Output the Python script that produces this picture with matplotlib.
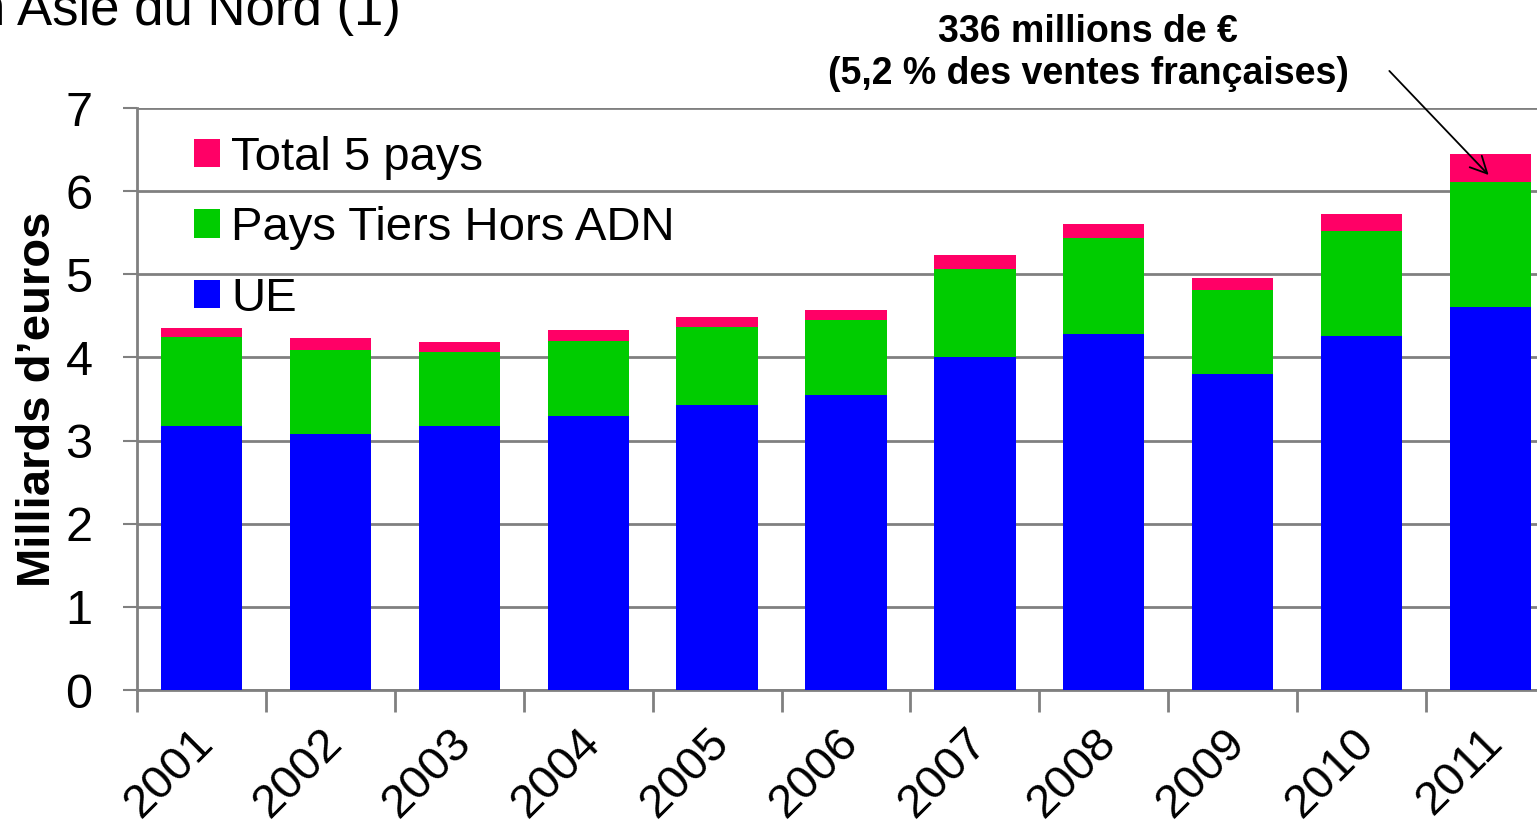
import numpy as np
import matplotlib
matplotlib.use("Agg")
import matplotlib.pyplot as plt
import matplotlib.transforms as mtransforms

# values (milliards d'euros)
years = ["2001", "2002", "2003", "2004", "2005", "2006",
         "2007", "2008", "2009", "2010", "2011"]
ue = [3.17, 3.08, 3.17, 3.29, 3.43, 3.55, 4.01, 4.28, 3.80, 4.26, 4.61]
tiers = [1.07, 1.01, 0.89, 0.91, 0.94, 0.90, 1.05, 1.16, 1.01, 1.26, 1.50]
cinq_pays = [0.11, 0.14, 0.12, 0.13, 0.12, 0.12, 0.17, 0.16, 0.15, 0.21, 0.34]

plt.rcParams['font.family'] = ['Liberation Sans', 'DejaVu Sans']

fig = plt.figure(figsize=(15.37, 8.27), dpi=100)
ax = fig.add_axes([137 / 1537, 1 - 690 / 827, 1418 / 1537, 582 / 827])

x = np.arange(len(years))
w = 0.63
ue_a = np.array(ue)
tiers_a = np.array(tiers)
b1 = ax.bar(x, ue, w, color='#0000FF', label='UE', zorder=3)
b2 = ax.bar(x, tiers, w, bottom=ue_a, color='#00CC00',
            label='Pays Tiers Hors ADN', zorder=3)
b3 = ax.bar(x, cinq_pays, w, bottom=ue_a + tiers_a, color='#FF0066',
            label='Total 5 pays', zorder=3)

ax.set_xlim(-0.5, len(years) - 0.5)
ax.set_ylim(0, 7)
ax.set_yticks(range(8))
ax.yaxis.grid(True, color='#808080', lw=2, zorder=0)
ax.tick_params(axis='y', labelsize=35, length=10, width=1.5, color='#808080', pad=22)

# category boundaries as ticks, year labels in the middle
ax.set_xticks(np.arange(-0.5, len(years), 1.0))
ax.set_xticklabels([])
ax.tick_params(axis='x', which='major', length=16, width=2, color='#808080')
ax.set_xticks(x, minor=True)
ax.set_xticklabels(years, minor=True, rotation=45, ha='right',
                   rotation_mode='anchor', fontsize=34)
ax.tick_params(axis='x', which='minor', length=0, pad=22)
shift = mtransforms.ScaledTranslation(-10 / 100, 0, fig.dpi_scale_trans)
for lab in ax.get_xticklabels(minor=True):
    lab.set_transform(lab.get_transform() + shift)

for s in ['top', 'right']:
    ax.spines[s].set_visible(False)
for s in ['left', 'bottom']:
    ax.spines[s].set_color('#808080')
    ax.spines[s].set_linewidth(2)

ax.set_ylabel("Milliards d\u2019euros", fontsize=34, fontweight='bold',
              labelpad=4)

ax.legend(handles=[b3, b2, b1], loc='upper left', frameon=False,
          fontsize=34, handlelength=0.55, handleheight=0.55,
          handletextpad=0.25, labelspacing=0.56,
          bbox_to_anchor=(0.01, 1.025))

# annotation for the 2011 "5 pays" segment
fig.text(1088 / 1537, 1 - 53 / 827,
         "336 millions de \u20ac\n(5,2 % des ventes fran\u00e7aises)",
         ha='center', va='center', fontsize=27, fontweight='bold',
         linespacing=1.2)
ax.annotate("", xy=(10, 6.17), xytext=(9.2, 7.47),
            arrowprops=dict(arrowstyle='->', lw=1.3, color='black',
                            mutation_scale=30),
            annotation_clip=False)

# title, cut off by the slide edge
fig.text(-24 / 1537, 1 - 25 / 827, "n Asie du Nord (1)", fontsize=38,
         ha='left', va='baseline')

fig.savefig("out.png", dpi=100)
